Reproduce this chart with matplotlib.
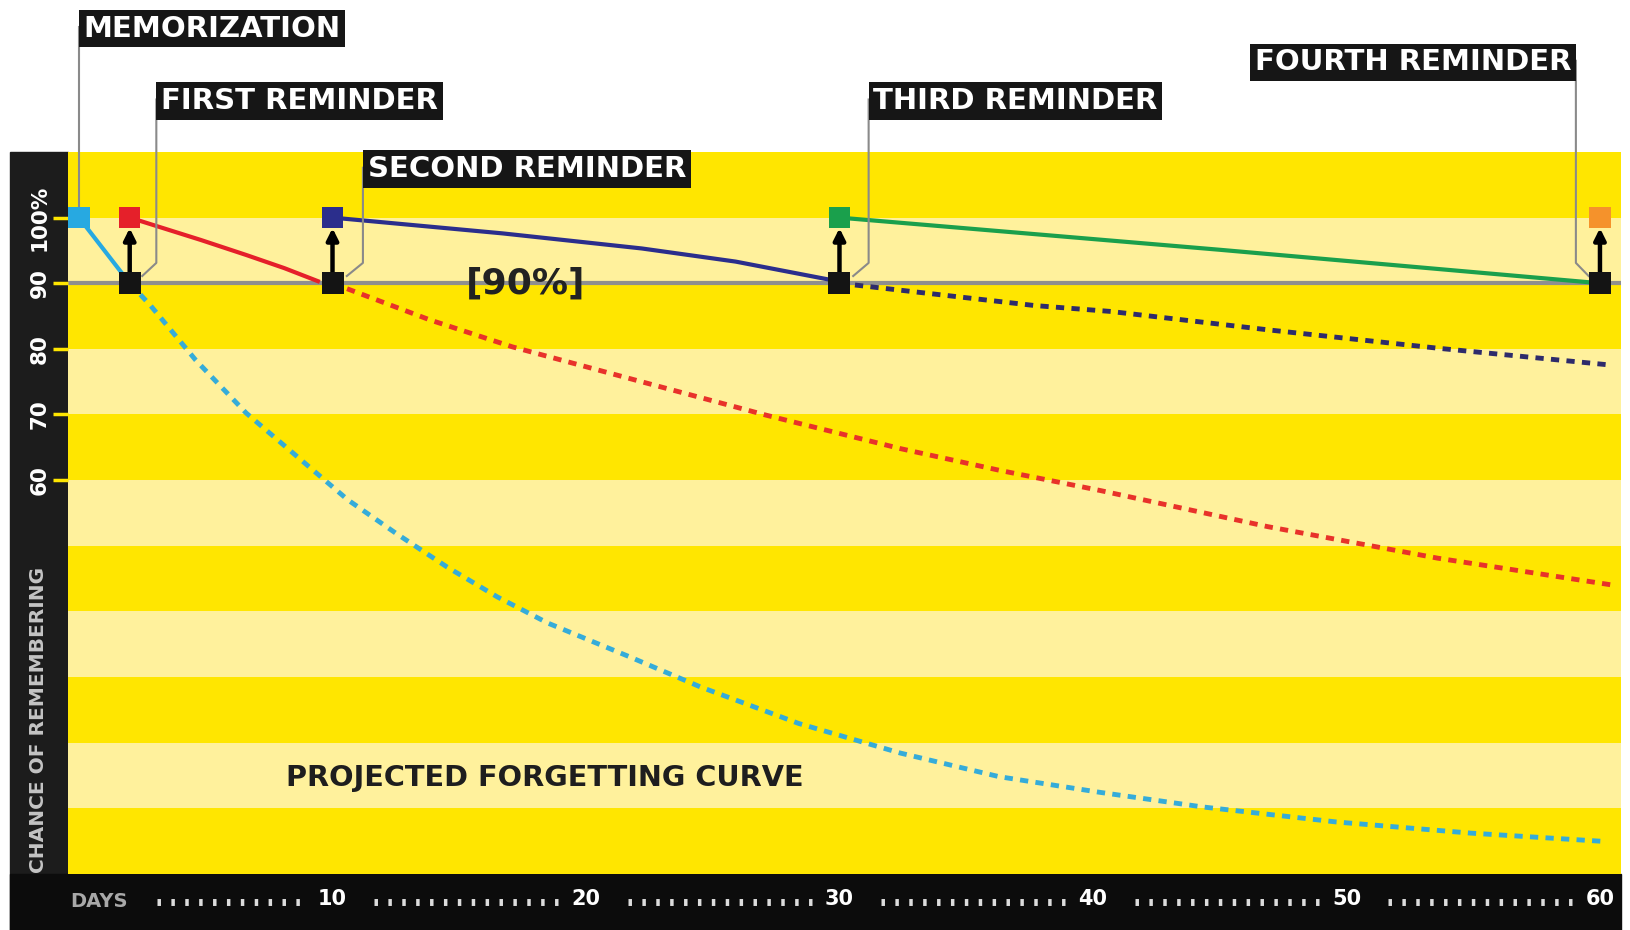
import matplotlib
matplotlib.use("Agg")
import matplotlib.pyplot as plt
from matplotlib.patches import Rectangle

plt.rcParams["font.family"] = ["DejaVu Sans"]

# ---------------------------------------------------------------------------
# Data
# ---------------------------------------------------------------------------
review_days = [0, 2, 10, 30, 60]
review_names = ["MEMORIZATION", "FIRST REMINDER", "SECOND REMINDER",
                "THIRD REMINDER", "FOURTH REMINDER"]
peak_level = 100
threshold = 90

# solid decay between reviews
cyan_days = [0, 2]
cyan_vals = [100, 90]
red_days = [2, 4.8, 6.6, 8.1, 9.5]
red_vals = [100, 96.6, 94.3, 92.3, 90.2]
navy_days = [10, 16.7, 22.2, 25.9, 29.8]
navy_vals = [100, 97.6, 95.3, 93.3, 90.4]
green_days = [30, 45, 60]
green_vals = [100, 95.1, 90]

# projected (dashed) forgetting curves
cyan_proj_days = [2, 2.8, 4.6, 6.6, 8.6, 10.6, 12.5, 14.5, 16.5, 18.5, 21.7,
                  24.5, 28.4, 32.4, 36.3, 40.3, 44.3, 49.6, 54.9, 60.3]
cyan_proj_vals = [90, 86.7, 78.3, 70.2, 63.6, 57.0, 51.9, 46.8, 42.2, 38.2, 33.1,
                  28.5, 22.9, 18.4, 14.8, 12.4, 10.2, 7.9, 6.2, 4.9]
red_proj_days = [10, 13.85, 17.1, 21.7, 27.1, 32.4, 36.3, 40.3, 46.9, 53.6, 60.5]
red_proj_vals = [90, 84.4, 80.3, 75.5, 69.9, 64.8, 61.5, 58.4, 52.9, 48.1, 44.0]
navy_proj_days = [30, 37.7, 40.7, 46.9, 53.6, 60.5]
navy_proj_vals = [90, 86.6, 85.7, 82.9, 80.1, 77.5]

y_ticks = [60, 70, 80, 90, 100]
y_ticklabels = ["60", "70", "80", "90", "100%"]
x_ticks = [10, 20, 30, 40, 50, 60]

# ---------------------------------------------------------------------------
# Styling / layout
# ---------------------------------------------------------------------------
DEEP = "#ffe600"
LIGHT = "#fff19c"
review_colors = ["#27a9e1", "#e5202a", "#2b2e8c", "#1aa04c", "#f5922b"]
dash_colors = {"cyan": "#35acd9", "red": "#e8322a", "navy": "#2e2b6b"}
BOX = "#161616"
LEADER = "#8a8a8a"

label_box_y = [129.0, 118.0, 107.6, 118.0, 123.9]
leader_dx = [0.0, 1.05, 1.2, 1.15, -0.95]
LABEL_FS = 21
LABEL_PAD = 0.16

fig = plt.figure(figsize=(16.31, 9.30), dpi=100)
ax = fig.add_axes([0.04145, 0.06043, 0.95242, 0.77613])
ax.set_xlim(-0.45, 60.83)
ax.set_ylim(0, 110)

# black frame bands (left + bottom)
fig.add_artist(Rectangle((0.0064, 0), 0.04145 - 0.0064, 0.83656,
                         transform=fig.transFigure, color="#1c1c1c", zorder=-1))
fig.add_artist(Rectangle((0.0064, 0), 0.99387 - 0.0064, 0.06043,
                         transform=fig.transFigure, color="#0c0c0c", zorder=-1))

# stripes
for i in range(11):
    ax.axhspan(i * 10, (i + 1) * 10, color=DEEP if i % 2 == 0 else LIGHT, lw=0, zorder=0)

ax.axhline(threshold, color="#8f8f8f", lw=3, zorder=1)

# solid segments
for xs, ys, c in [(cyan_days, cyan_vals, review_colors[0]),
                  (red_days, red_vals, review_colors[1]),
                  (navy_days, navy_vals, review_colors[2]),
                  (green_days, green_vals, review_colors[3])]:
    ax.plot(xs, ys, color=c, lw=3, solid_capstyle="butt", zorder=2)

# dashed projections
for xs, ys, c in [(cyan_proj_days, cyan_proj_vals, dash_colors["cyan"]),
                  (red_proj_days, red_proj_vals, dash_colors["red"]),
                  (navy_proj_days, navy_proj_vals, dash_colors["navy"])]:
    ax.plot(xs, ys, color=c, lw=3.5, dashes=(1.7, 1.5), zorder=2)

# arrows from threshold back up to full recall
for d in review_days[1:]:
    ax.annotate("", xy=(d, 98.4), xytext=(d, 91.4),
                arrowprops=dict(arrowstyle="-|>", color="black", lw=3.2,
                                mutation_scale=17, shrinkA=0, shrinkB=0),
                zorder=3)

ax.scatter(review_days, [peak_level] * len(review_days), marker="s", s=235,
           c=review_colors, linewidths=0, zorder=4, clip_on=False)
ax.scatter(review_days[1:], [threshold] * (len(review_days) - 1), marker="s", s=240,
           c="#141414", linewidths=0, zorder=4, clip_on=False)

# leader lines + label boxes
pad_pts = LABEL_PAD * LABEL_FS
for i, (d, name) in enumerate(zip(review_days, review_names)):
    by, dx = label_box_y[i], leader_dx[i]
    if dx == 0:
        ax.plot([d, d], [by, peak_level + 1.5], color=LEADER, lw=1.5, zorder=3, clip_on=False)
    else:
        ax.plot([d + dx, d + dx, d + dx * 0.47], [by, 93.1, 91.1],
                color=LEADER, lw=1.5, zorder=3, clip_on=False)
    ha = "left" if dx >= 0 else "right"
    off = pad_pts if dx >= 0 else -pad_pts
    ax.annotate(name, xy=(d + dx, by), xytext=(off, -1), textcoords="offset points",
                ha=ha, va="center", fontsize=LABEL_FS, fontweight="bold", color="white",
                bbox=dict(boxstyle=f"square,pad={LABEL_PAD}", fc=BOX, ec="none"),
                annotation_clip=False, zorder=6)

ax.text(17.6, threshold, "[90%]", ha="center", va="center", fontsize=26,
        fontweight="bold", color="#222222", zorder=5)
ax.text(8.17, 14.6, "PROJECTED FORGETTING CURVE", ha="left", va="center",
        fontsize=20.7, fontweight="bold", color="#1e1e1e", zorder=5)

# y axis
for s in ax.spines.values():
    s.set_visible(False)
ax.set_yticks(y_ticks)
ax.set_yticklabels(y_ticklabels, rotation=90, va="center", fontsize=15.5,
                   fontweight="bold", color="white")
ax.tick_params(axis="y", length=11, width=2.5, color=DEEP, pad=2)
ax.text(-0.0187, 0.213, "CHANCE OF REMEMBERING", transform=ax.transAxes,
        rotation=90, ha="center", va="center", fontsize=14.5, fontweight="bold",
        color="#c4c4c4")

# x axis
ax.set_xticks(x_ticks)
ax.set_xticklabels([str(t) for t in x_ticks], fontsize=15, fontweight="bold", color="white")
ax.tick_params(axis="x", length=0, pad=11)
xlab_y = -0.039
ax.text(0.79, xlab_y, "DAYS", transform=ax.get_xaxis_transform(), ha="center",
        va="center", fontsize=14, fontweight="bold", color="#a8a8a8")
label_pos = [0.79] + x_ticks
half_w = [1.2] + [0.55] * len(x_ticks)
for a, b, hw in zip(label_pos[:-1], label_pos[1:], half_w[:-1]):
    ax.plot([a + hw + 1.1, b - 1.1], [xlab_y, xlab_y], transform=ax.get_xaxis_transform(),
            color="#dddddd", lw=5, dashes=(0.5, 1.5), clip_on=False)

fig.savefig("out.png", dpi=100, facecolor="white")
